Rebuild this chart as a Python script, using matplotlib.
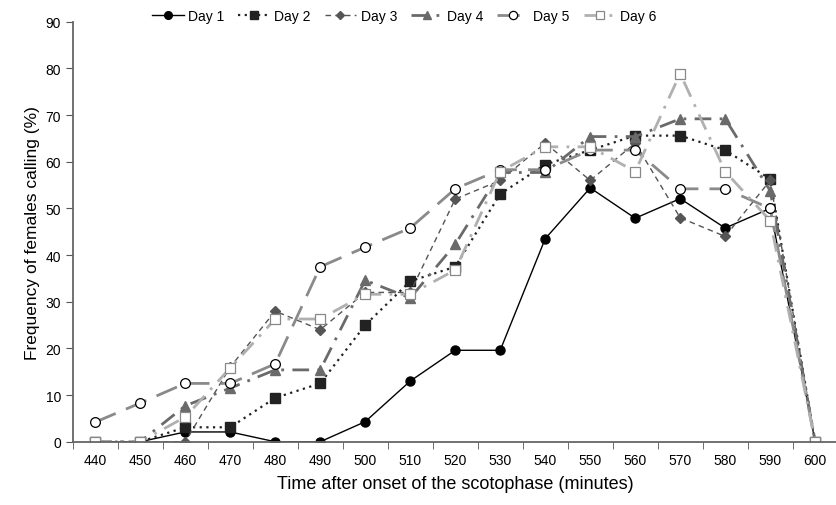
import numpy as np
import matplotlib
matplotlib.use("Agg")
import matplotlib.pyplot as plt

plt.rcParams['font.family'] = ['Liberation Sans', 'DejaVu Sans']

# minutes after onset of scotophase (categories)
times = [440, 450, 460, 470, 480, 490, 500, 510, 520, 530, 540, 550, 560, 570, 580, 590, 600]

day1 = [0, 0, 2.1, 2.1, 0, 0, 4.3, 13.0, 19.6, 19.6, 43.5, 54.4, 47.9, 52.1, 45.8, 50.0, 0]
day2 = [0, 0, 3.1, 3.1, 9.4, 12.5, 25.0, 34.4, 37.5, 53.1, 59.4, 62.5, 65.6, 65.6, 62.5, 56.3, 0]
day3 = [0, 0, 0, 16.0, 28.0, 24.0, 32.0, 32.0, 52.0, 56.0, 64.0, 56.0, 64.0, 48.0, 44.0, 56.0, 0]
day4 = [0, 0, 7.7, 11.5, 15.4, 15.4, 34.6, 30.8, 42.3, 57.7, 57.7, 65.4, 65.4, 69.2, 69.2, 53.8, 0]
day5 = [4.2, 8.3, 12.5, 12.5, 16.7, 37.5, 41.7, 45.8, 54.2, 58.3, 58.3, 62.5, 62.5, 54.2, 54.2, 50.0, 0]
day6 = [0, 0, 5.3, 15.8, 26.3, 26.3, 31.6, 31.6, 36.8, 57.9, 63.2, 63.2, 57.9, 78.9, 57.9, 47.4, 0]

series = [
    ("Day 1", day1, dict(color='black', lw=1.0, ls='-', marker='o', ms=6.5,
                         mfc='black', mec='black')),
    ("Day 2", day2, dict(color='#222222', lw=1.6, ls=(0, (1, 2)), marker='s', ms=6.5,
                         mfc='#222222', mec='#222222')),
    ("Day 3", day3, dict(color='#555555', lw=1.0, ls=(0, (4, 3)), marker='D', ms=5,
                         mfc='#555555', mec='#555555')),
    ("Day 4", day4, dict(color='#6a6a6a', lw=2.0, ls=(0, (6, 3, 1, 3)), marker='^', ms=7,
                         mfc='#6a6a6a', mec='#6a6a6a')),
    ("Day 5", day5, dict(color='#8a8a8a', lw=2.0, ls=(0, (8, 4)), marker='o', ms=7,
                         mfc='white', mec='black', mew=0.9)),
    ("Day 6", day6, dict(color='#b0b0b0', lw=2.0, ls=(0, (6, 3, 1, 3)), marker='s', ms=6.5,
                         mfc='white', mec='#888888', mew=0.9)),
]

fig = plt.figure(figsize=(8.36, 5.06), dpi=100)
ax = fig.add_axes([0.087, 0.125, 0.915, 0.83])

x = np.arange(len(times))
for label, vals, style in series:
    ax.plot(x, vals, label=label, **style)

ax.set_xlim(-0.5, len(times) - 0.5)
ax.set_ylim(0, 90)
ax.set_yticks(np.arange(0, 91, 10))
ax.set_xticks(x)
ax.set_xticklabels([str(t) for t in times])
ax.set_xticks(np.arange(-0.5, len(times), 1.0), minor=True)
ax.tick_params(axis='x', which='major', length=0, pad=8, labelsize=10)
ax.tick_params(axis='x', which='minor', length=5, direction='out', color='#555555')
ax.tick_params(axis='y', length=5, direction='out', color='#555555', labelsize=10)

for s in ['top', 'right']:
    ax.spines[s].set_visible(False)
for s in ['left', 'bottom']:
    ax.spines[s].set_color('#666666')
    ax.spines[s].set_linewidth(1.3)

ax.set_ylabel('Frequency of females calling (%)', fontsize=12.5)
ax.set_xlabel('Time after onset of the scotophase (minutes)', fontsize=13, labelpad=6)

ax.legend(loc='upper center', bbox_to_anchor=(0.433, 1.06), ncol=6, frameon=False,
          fontsize=10, handlelength=2.3, columnspacing=1.0, handletextpad=0.3,
          markerscale=0.85)

fig.savefig('out.png', dpi=100)
